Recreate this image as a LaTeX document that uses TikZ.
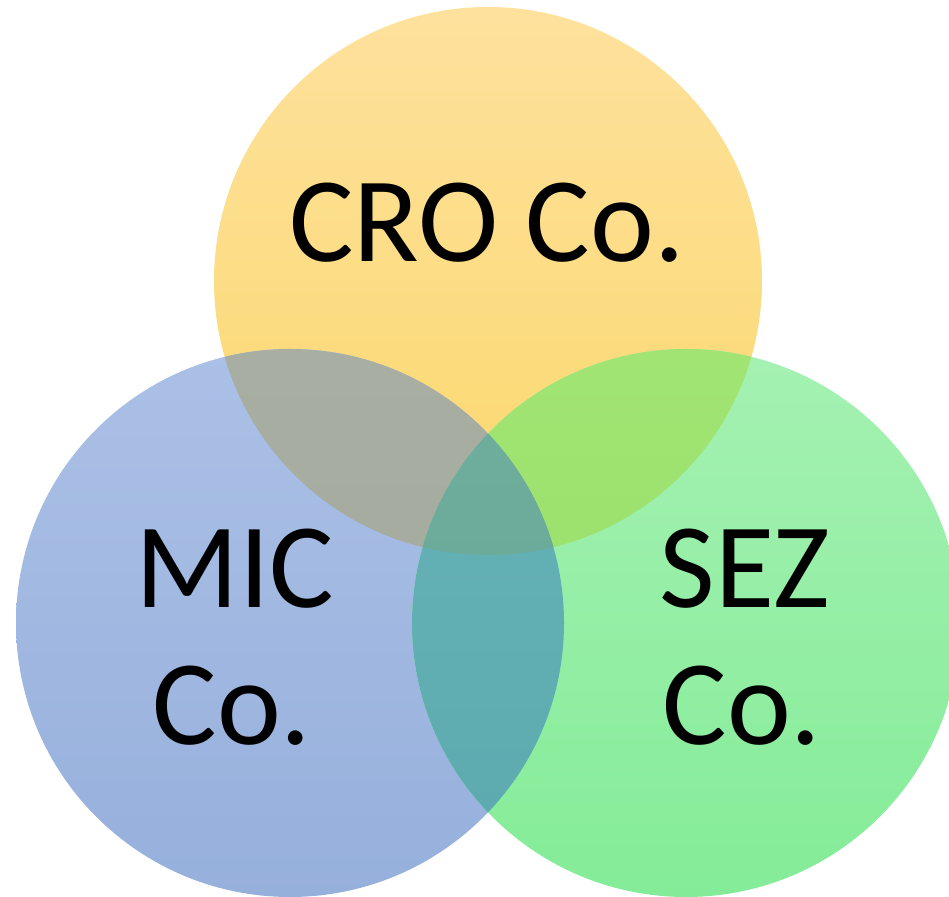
\documentclass[tikz,border=0pt]{standalone}
\usepackage{fontspec}
\setmainfont{Carlito}
\begin{document}
\begin{tikzpicture}[x=1pt,y=1pt,
  lbl/.style={anchor=base,inner sep=0pt,font=\fontsize{121}{137}\selectfont}]
\useasboundingbox (0,0) rectangle (949,896);
\clip (0,0) rectangle (949,896);
\def\R{274pt}
\coordinate (cy) at (488,615);
\coordinate (cb) at (290,273);
\coordinate (cg) at (686,273);
% single circles
\shade[top color={rgb,255:red,254;green,225;blue,157},bottom color={rgb,255:red,251;green,216;blue,108}] (cy) circle (\R);
\shade[top color={rgb,255:red,171;green,192;blue,230},bottom color={rgb,255:red,150;green,176;blue,220}] (cb) circle (\R);
\shade[top color={rgb,255:red,165;green,241;blue,178},bottom color={rgb,255:red,132;green,236;blue,152}] (cg) circle (\R);
% Y & B
\begin{scope}
\clip (cy) circle (\R);
\shade[top color={rgb,255:red,169;green,174;blue,163},bottom color={rgb,255:red,160;green,168;blue,154}] (cb) circle (\R);
\end{scope}
% Y & G
\begin{scope}
\clip (cy) circle (\R);
\shade[top color={rgb,255:red,161;green,228;blue,116},bottom color={rgb,255:red,148;green,222;blue,98}] (cg) circle (\R);
\end{scope}
% B & G
\begin{scope}
\clip (cb) circle (\R);
\shade[top color={rgb,255:red,104;green,180;blue,184},bottom color={rgb,255:red,91;green,169;blue,174}] (cg) circle (\R);
\end{scope}
% Y & B & G
\begin{scope}
\clip (cy) circle (\R);
\clip (cb) circle (\R);
\shade[top color={rgb,255:red,112;green,174;blue,158},bottom color={rgb,255:red,102;green,166;blue,146}] (cg) circle (\R);
\end{scope}
% labels
\node[lbl] (cro) at (487,634) {CRO Co.};
\node[lbl] (mic) at (235,288) {MIC};
\node[lbl] (micco) at (232,151) {Co.};
\node[lbl] (sez) at (745,288) {SEZ};
\node[lbl] (sezco) at (742,151) {Co.};
\end{tikzpicture}
\end{document}
